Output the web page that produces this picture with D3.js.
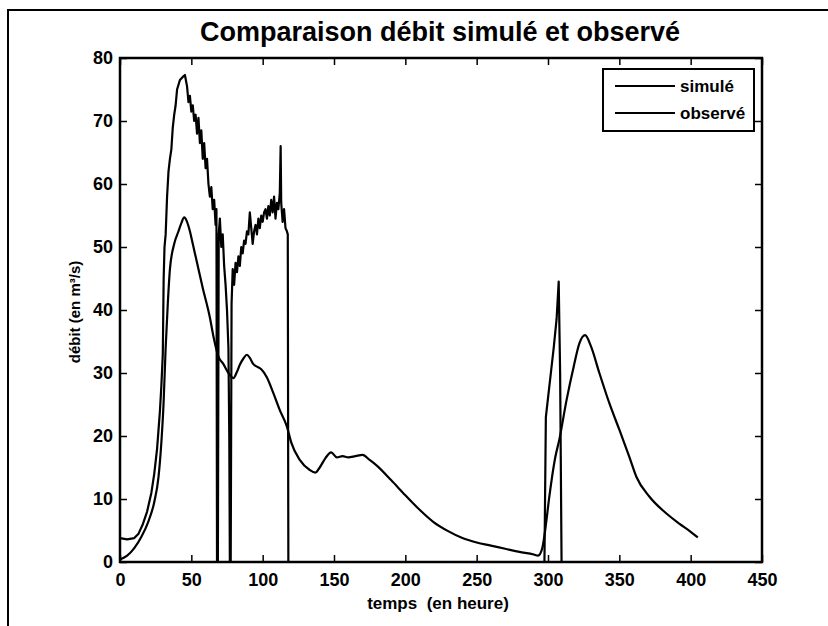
<!DOCTYPE html>
<html>
<head>
<meta charset="utf-8">
<script src="https://cdn.jsdelivr.net/npm/d3@7"></script>
<style>
  html, body { margin: 0; padding: 0; background: #fff; }
  svg { display: block; font-family: "Liberation Sans", Arial, sans-serif; }
  text { white-space: pre; }
</style>
</head>
<body>
<svg id="chart" width="828" height="626"></svg>
<script>
// ---- data ----
const titleText = "Comparaison débit simulé et observé";
const xLabel = "temps  (en heure)";
const yLabel = "débit (en m³/s)";
const seriesNames = ["simulé", "observé"];
const xTicks = [0, 50, 100, 150, 200, 250, 300, 350, 400, 450];
const yTicks = [0, 10, 20, 30, 40, 50, 60, 70, 80];

const simTime = [0, 5, 10, 15, 20, 24, 27, 29, 30.5, 32, 33.5, 35, 38, 41, 43, 45, 47, 49, 51, 54, 58, 63, 65.5, 69, 72.5, 76, 79.5, 82, 84, 86.5, 89, 91, 93.5, 96, 99, 103, 107.5, 112, 117, 120, 126, 133, 137, 140, 144, 148, 152, 156, 160, 165, 170, 175, 180, 190, 200, 210, 220, 230, 240, 250, 260, 270, 280, 290, 293, 296, 298, 301, 305, 308, 313, 318, 322, 326, 330, 336, 343, 350, 357, 362, 371, 383, 392, 400, 405];
const simFlow = [0.4, 1.0, 2.2, 4.0, 6.5, 9.5, 13.5, 19, 25, 34, 41, 46.5, 50.5, 52.5, 53.8, 54.7, 54.0, 52.5, 50.5, 47.5, 43.5, 38.8, 35.8, 32.6, 31.4, 30.0, 29.2, 30.2, 31.3, 32.3, 32.9, 32.4, 31.4, 31.0, 30.6, 29.3, 26.8, 24.1, 21.5, 19.0, 16.2, 14.6, 14.2, 15.0, 16.5, 17.4, 16.6, 16.8, 16.6, 16.8, 17.0, 16.2, 15.3, 13.0, 10.6, 8.3, 6.3, 4.9, 3.8, 3.1, 2.6, 2.1, 1.6, 1.2, 1.0, 2.2, 5.0, 10.5, 16.5, 19.5, 25.7, 31.0, 34.7, 36.0, 34.3, 30.0, 25.2, 21.0, 16.7, 13.5, 10.4, 7.7, 6.1, 4.8, 3.9];

const obsTime = [0, 5, 10, 13, 16, 19, 22, 24, 26, 28, 29, 30, 30.6, 31.2, 32, 33, 34, 35, 36, 37, 38, 39, 40, 42, 44, 45.5, 47, 48, 49, 50, 51, 52, 53, 54, 55, 56, 57, 58, 59, 60, 61, 62, 63, 64, 65, 66, 67, 67.6, 68.0, 68.6, 69.2, 70, 71, 72, 73, 74, 75, 76, 76.6, 77.0, 77.6, 78.2, 79, 80, 81, 82, 83, 84, 85, 86, 87, 88, 89, 90, 91, 92, 93, 94, 95, 96, 97, 98, 99, 100, 101, 102, 103, 104, 105, 106, 107, 108, 109, 110, 111, 112, 112.6, 113, 114, 115, 116, 117, 117.6, 118.0, 150, 200, 250, 297.5, 298.5, 300, 302, 304, 306, 307.5, 308.5, 309.5, 350, 405];
const obsFlow = [3.8, 3.6, 3.8, 4.5, 6.0, 8.0, 11.0, 14.0, 18.0, 24.0, 28.0, 33.0, 45.0, 50.0, 52.0, 58.0, 62.0, 64.0, 65.5, 69.0, 71.0, 72.5, 75.0, 76.5, 77.0, 77.3, 75.5, 73.0, 74.0, 71.5, 72.5, 70.0, 71.0, 68.0, 70.5, 66.5, 68.5, 64.0, 66.5, 62.5, 64.0, 60.0, 58.0, 59.5, 56.0, 57.5, 53.5, 56.0, 0, 0, 52.0, 54.5, 50.0, 52.0, 47.0, 44.0, 40.0, 34.0, 20.0, 0, 0, 41.0, 46.5, 44.0, 47.5, 46.0, 48.5, 47.0, 50.0, 49.0, 51.0, 50.5, 52.5, 52.0, 55.5, 53.0, 50.5, 52.5, 53.5, 52.0, 54.5, 53.0, 55.0, 54.0, 55.5, 56.0, 54.5, 56.5, 55.0, 57.5, 55.5, 58.0, 54.5, 57.0, 56.0, 58.5, 66.0, 57.0, 54.0, 56.0, 53.0, 52.5, 52.0, 0, 0, 0, 0, 0, 23.0, 26.0, 30.0, 34.0, 38.5, 44.5, 30.0, 0, 0, 0];

// ---- layout ----
const svg = d3.select("#chart");
const W = 828, H = 626;
const plot = { left: 120, right: 762, top: 58, bottom: 562 };

const x = d3.scaleLinear().domain([0, 450]).range([plot.left, plot.right]);
const y = d3.scaleLinear().domain([0, 80]).range([plot.bottom, plot.top]);

svg.append("rect").attr("width", W).attr("height", H).attr("fill", "#fff");

// outer figure frame
svg.append("path")
  .attr("d", `M8,${H} L8,10 L${W},10`)
  .attr("fill", "none").attr("stroke", "#000").attr("stroke-width", 2);

// title
svg.append("text")
  .attr("x", 440).attr("y", 41)
  .attr("text-anchor", "middle")
  .attr("font-size", 27).attr("font-weight", "bold")
  .text(titleText);

// axes
const tickLen = 7;
const gx = svg.append("g").attr("transform", `translate(0,${plot.bottom})`)
  .call(d3.axisBottom(x).tickValues(xTicks).tickSizeInner(-tickLen).tickSizeOuter(0).tickPadding(11));
const gy = svg.append("g").attr("transform", `translate(${plot.left},0)`)
  .call(d3.axisLeft(y).tickValues(yTicks).tickSizeInner(-tickLen).tickSizeOuter(0).tickPadding(7));
const gxt = svg.append("g").attr("transform", `translate(0,${plot.top})`)
  .call(d3.axisTop(x).tickValues(xTicks).tickSizeInner(-tickLen).tickSizeOuter(0).tickFormat(""));
const gyr = svg.append("g").attr("transform", `translate(${plot.right},0)`)
  .call(d3.axisRight(y).tickValues(yTicks).tickSizeInner(-tickLen).tickSizeOuter(0).tickFormat(""));

[gx, gy, gxt, gyr].forEach(g => {
  g.select(".domain").remove();
  g.selectAll(".tick line").attr("stroke", "#000").attr("stroke-width", 1.5);
  g.selectAll(".tick text").attr("font-size", 18).attr("font-weight", "bold").attr("fill", "#000")
    .attr("font-family", "'Liberation Sans', Arial, sans-serif");
});

// lines
const simData = simTime.map((t, i) => [t, simFlow[i]]);
const obsData = obsTime.map((t, i) => [t, obsFlow[i]]);

svg.append("path").datum(simData)
  .attr("d", d3.line().x(d => x(d[0])).y(d => y(d[1])).curve(d3.curveMonotoneX))
  .attr("fill", "none").attr("stroke", "#000").attr("stroke-width", 2.2)
  .attr("stroke-linejoin", "round");
svg.append("path").datum(obsData)
  .attr("d", d3.line().x(d => x(d[0])).y(d => y(d[1])))
  .attr("fill", "none").attr("stroke", "#000").attr("stroke-width", 2.2)
  .attr("stroke-linejoin", "round");

// box
svg.append("rect")
  .attr("x", plot.left).attr("y", plot.top)
  .attr("width", plot.right - plot.left).attr("height", plot.bottom - plot.top)
  .attr("fill", "none").attr("stroke", "#000").attr("stroke-width", 2.5);

// axis labels
svg.append("text")
  .attr("x", 438).attr("y", 609)
  .attr("text-anchor", "middle")
  .attr("font-size", 17).attr("font-weight", "bold")
  .text(xLabel);
svg.append("text")
  .attr("transform", `translate(80,312) rotate(-90)`)
  .attr("text-anchor", "middle")
  .attr("font-size", 15).attr("font-weight", "bold")
  .text(yLabel);

// legend
const lg = svg.append("g");
lg.append("rect").attr("x", 603).attr("y", 69).attr("width", 151).attr("height", 62)
  .attr("fill", "#fff").attr("stroke", "#000").attr("stroke-width", 2);
seriesNames.forEach((name, i) => {
  const yy = 86 + i * 27;
  lg.append("line").attr("x1", 615).attr("x2", 675).attr("y1", yy).attr("y2", yy)
    .attr("stroke", "#000").attr("stroke-width", 2);
  lg.append("text").attr("x", 680).attr("y", yy + 6)
    .attr("font-size", 17).attr("font-weight", "bold").text(name);
});
</script>
</body>
</html>
